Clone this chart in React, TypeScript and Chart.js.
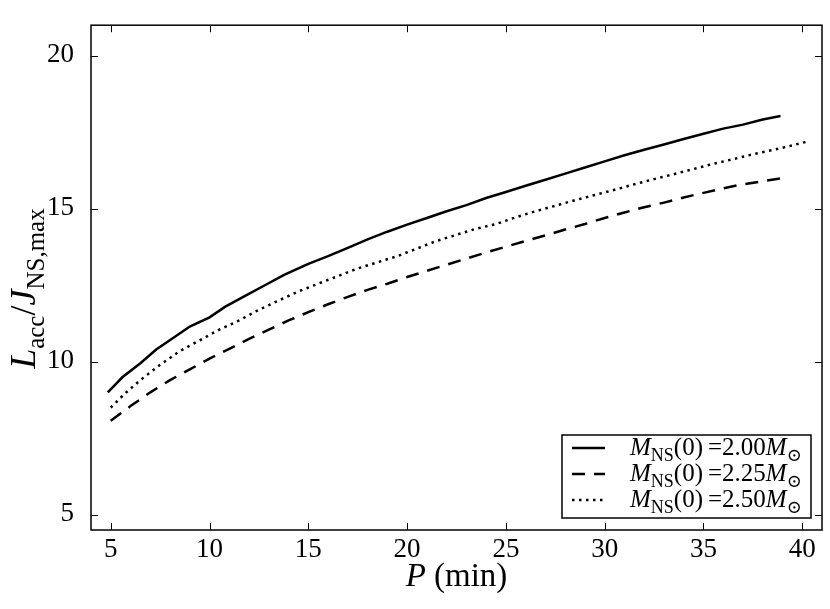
import React, { useEffect, useRef } from "react";
import { Chart, registerables } from "chart.js";

Chart.register(...registerables);

const FONT = '"Liberation Serif", "DejaVu Serif", serif';

const xTicks = [5, 10, 15, 20, 25, 30, 35, 40];
const yTicks = [5, 10, 15, 20];

// M_NS(0) = 2.00 M_sun
const solidP = [4.85, 5.6, 6.5, 7.3, 8.1, 9.0, 10.0, 10.8, 11.8, 12.8, 13.8, 15.0, 16.0, 17.0, 18.0, 19.0, 20.0, 21.0, 22.0, 23.0, 24.0, 25.0, 26.0, 27.0, 28.0, 29.0, 30.0, 31.0, 32.0, 33.0, 34.0, 35.0, 36.0, 37.0, 38.0, 38.9];
const solidL = [9.0, 9.5, 9.95, 10.4, 10.75, 11.15, 11.45, 11.8, 12.15, 12.5, 12.85, 13.2, 13.45, 13.72, 14.0, 14.25, 14.48, 14.7, 14.92, 15.12, 15.35, 15.55, 15.75, 15.95, 16.15, 16.35, 16.55, 16.75, 16.93, 17.1, 17.28, 17.45, 17.62, 17.75, 17.92, 18.03];

// M_NS(0) = 2.25 M_sun
const dashP = [5.0, 6.0, 7.0, 8.0, 9.0, 10.0, 11.0, 12.0, 13.0, 14.0, 15.0, 16.0, 17.0, 18.0, 19.0, 20.0, 21.0, 22.0, 23.0, 24.0, 25.0, 26.0, 27.0, 28.0, 29.0, 30.0, 31.0, 32.0, 33.0, 34.0, 35.0, 36.0, 37.0, 38.0, 39.2];
const dashL = [8.07, 8.55, 9.0, 9.4, 9.75, 10.1, 10.42, 10.75, 11.05, 11.35, 11.62, 11.88, 12.12, 12.35, 12.55, 12.77, 12.97, 13.17, 13.37, 13.57, 13.76, 13.95, 14.13, 14.32, 14.5, 14.7, 14.88, 15.05, 15.2, 15.37, 15.52, 15.67, 15.8, 15.9, 16.02];

// M_NS(0) = 2.50 M_sun
const dotP = [5.0, 5.7, 6.5, 7.5, 8.5, 9.5, 10.5, 11.5, 12.5, 13.5, 14.5, 15.5, 16.5, 17.5, 18.5, 19.5, 20.5, 21.5, 22.5, 23.5, 24.5, 25.5, 26.5, 27.5, 28.5, 29.5, 30.5, 31.5, 32.5, 33.5, 34.5, 35.5, 36.5, 37.5, 38.5, 39.5, 40.2];
const dotL = [8.5, 8.95, 9.4, 9.9, 10.35, 10.7, 11.05, 11.35, 11.7, 12.0, 12.3, 12.55, 12.8, 13.05, 13.25, 13.45, 13.7, 13.95, 14.15, 14.35, 14.5, 14.72, 14.92, 15.1, 15.28, 15.45, 15.62, 15.8, 15.97, 16.13, 16.3, 16.47, 16.62, 16.78, 16.92, 17.07, 17.19];

const massLabels = ["2.00", "2.25", "2.50"];
const dashes = [[], [13, 9], [2.5, 4.5]];

type Run = { t: string; it?: boolean; sub?: boolean };

function fontFor(r: Run, size: number) {
  return `${r.it ? "italic " : ""}${r.sub ? Math.round(size * 0.7) : size}px ${FONT}`;
}

// draws a line of text with italic / subscript pieces, baseline at y
function drawRich(ctx: CanvasRenderingContext2D, runs: Run[], x: number, y: number, size: number, align: "left" | "center") {
  let total = 0;
  const widths = runs.map((r) => {
    ctx.font = fontFor(r, size);
    const w = ctx.measureText(r.t).width;
    total += w;
    return w;
  });
  let cx = align === "center" ? x - total / 2 : x;
  ctx.textBaseline = "alphabetic";
  ctx.textAlign = "left";
  runs.forEach((r, i) => {
    ctx.font = fontFor(r, size);
    ctx.fillText(r.t, cx, r.sub ? y + size * 0.24 : y);
    cx += widths[i];
  });
}

const framePlugin = {
  id: "frame",
  afterDraw(chart: Chart) {
    const { ctx, chartArea: a, scales } = chart;
    const xs = scales.x;
    const ys = scales.y;
    ctx.save();
    ctx.strokeStyle = "#000";
    ctx.fillStyle = "#000";

    // inward ticks on all four sides
    ctx.lineWidth = 1;
    ctx.beginPath();
    xs.ticks.forEach((t) => {
      const px = Math.round(xs.getPixelForValue(t.value)) + 0.5;
      ctx.moveTo(px, a.bottom);
      ctx.lineTo(px, a.bottom - 7);
      ctx.moveTo(px, a.top);
      ctx.lineTo(px, a.top + 7);
    });
    ys.ticks.forEach((t) => {
      const py = Math.round(ys.getPixelForValue(t.value)) + 0.5;
      ctx.moveTo(a.left, py);
      ctx.lineTo(a.left + 7, py);
      ctx.moveTo(a.right, py);
      ctx.lineTo(a.right - 7, py);
    });
    ctx.stroke();

    // legend box
    const bw = 249;
    const bh = 83;
    const bx = a.right - 11 - bw;
    const by = a.bottom - 12 - bh;
    ctx.fillStyle = "#fff";
    ctx.fillRect(bx, by, bw, bh);
    ctx.lineWidth = 1.5;
    ctx.strokeRect(bx, by, bw, bh);
    ctx.fillStyle = "#000";
    massLabels.forEach((m, i) => {
      const ry = by + 13 + i * 26;
      ctx.save();
      ctx.lineWidth = 2.5;
      ctx.setLineDash(dashes[i]);
      ctx.beginPath();
      ctx.moveTo(bx + 10, ry);
      ctx.lineTo(bx + 43, ry);
      ctx.stroke();
      ctx.restore();
      drawRich(
        ctx,
        [
          { t: "M", it: true },
          { t: "NS", sub: true },
          { t: "(0)\u2009=" + m },
          { t: "M", it: true },
          { t: "\u2299", sub: true },
        ],
        bx + 68,
        ry + 7,
        25,
        "left"
      );
    });

    // frame
    ctx.lineWidth = 1.5;
    ctx.strokeRect(a.left, a.top, a.right - a.left, a.bottom - a.top);

    // axis titles
    drawRich(ctx, [{ t: "P", it: true }, { t: " (min)" }], (a.left + a.right) / 2, 586, 33, "center");
    ctx.translate(35, (a.top + a.bottom) / 2 + 11);
    ctx.rotate(-Math.PI / 2);
    drawRich(
      ctx,
      [
        { t: "L", it: true },
        { t: "acc", sub: true },
        { t: "/" },
        { t: "J", it: true },
        { t: "NS,max", sub: true },
      ],
      0,
      0,
      36,
      "center"
    );
    ctx.restore();
  },
};

export default function App() {
  const ref = useRef<HTMLCanvasElement | null>(null);
  const chartRef = useRef<Chart | null>(null);

  useEffect(() => {
    const ctx = ref.current?.getContext("2d");
    if (!ctx) return;
    const series = [
      { p: solidP, l: solidL, dash: dashes[0], label: "2.00" },
      { p: dashP, l: dashL, dash: dashes[1], label: "2.25" },
      { p: dotP, l: dotL, dash: dashes[2], label: "2.50" },
    ];
    const tickFont = { family: FONT, size: 27 };
    chartRef.current?.destroy();
    chartRef.current = new Chart(ctx, {
      type: "line",
      data: {
        datasets: series.map((s) => ({
          label: s.label,
          data: s.p.map((x, i) => ({ x, y: s.l[i] })),
          borderColor: "#000",
          borderWidth: 2.5,
          borderDash: s.dash,
          borderCapStyle: "butt",
          pointRadius: 0,
          tension: 0,
          fill: false,
        })),
      },
      plugins: [framePlugin],
      options: {
        responsive: false,
        animation: false,
        events: [],
        layout: { padding: { top: 18, right: 8, left: 0, bottom: 0 } },
        plugins: { legend: { display: false }, tooltip: { enabled: false } },
        scales: {
          x: {
            type: "linear",
            min: 4,
            max: 41,
            grid: { display: false },
            border: { display: false },
            ticks: { color: "#000", font: tickFont, padding: -4, maxRotation: 0, autoSkip: false },
            afterBuildTicks: (axis) => {
              axis.ticks = xTicks.map((value) => ({ value }));
            },
            afterFit: (axis) => {
              axis.height = 79;
            },
          },
          y: {
            min: 4.5,
            max: 21,
            grid: { display: false },
            border: { display: false },
            ticks: { color: "#000", font: tickFont, padding: 9, labelOffset: -1, autoSkip: false },
            afterBuildTicks: (axis) => {
              axis.ticks = yTicks.map((value) => ({ value }));
            },
            afterFit: (axis) => {
              axis.width = 91;
            },
          },
        },
      },
    } as any);
    return () => chartRef.current?.destroy();
  }, []);

  return (
    <div style={{ position: "absolute", left: 0, top: 0, width: 830, height: 609, background: "#fff" }}>
      <canvas ref={ref} width={830} height={609} style={{ display: "block" }} />
    </div>
  );
}
